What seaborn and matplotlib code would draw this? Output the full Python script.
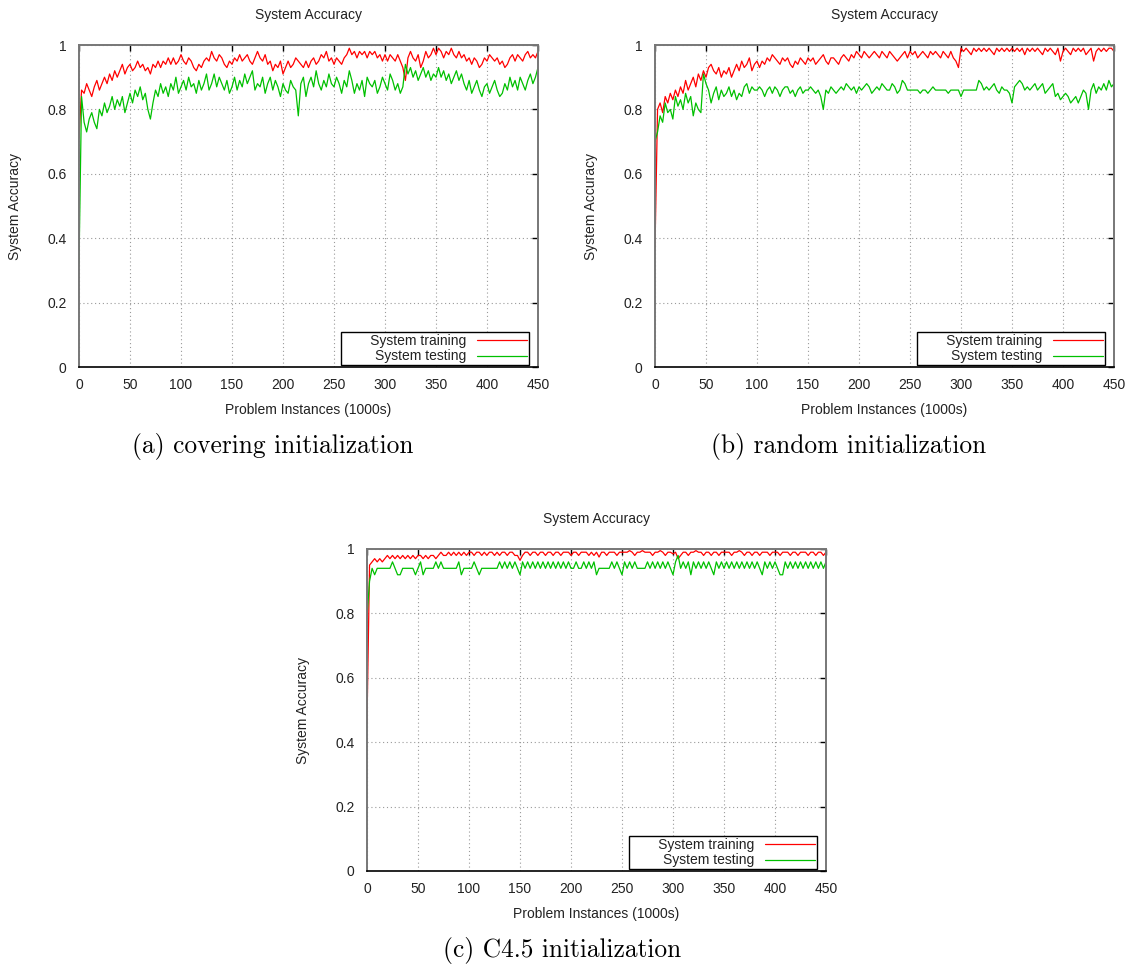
import numpy as np
import matplotlib
matplotlib.use("Agg")
import matplotlib.pyplot as plt
import seaborn as sns

WIDTH = 1135
HEIGHT = 966
DPI = 100

X_TICKS = [0, 50, 100, 150, 200, 250, 300, 350, 400, 450]
Y_TICKS = [0, 0.2, 0.4, 0.6, 0.8, 1.0]
Y_TICK_LABELS = ["0", "0.2", "0.4", "0.6", "0.8", "1"]

TITLE = "System Accuracy"
X_LABEL = "Problem Instances (1000s)"
Y_LABEL = "System Accuracy"
SERIES_NAMES = ["System training", "System testing"]
CAPTIONS = ["(a) covering initialization", "(b) random initialization", "(c) C4.5 initialization"]

# accuracy every 2.5k instances (first value is at 0)
covering_train = [.71,
    .86, .85, .88, .86, .84, .87, .89, .86, .88, .90,
    .88, .91, .89, .92, .90, .92, .94, .91, .93, .94,
    .92, .93, .95, .93, .94, .92, .93, .91, .94, .93,
    .95, .93, .95, .94, .96, .94, .96, .94, .95, .97,
    .95, .94, .96, .95, .93, .92, .94, .93, .95, .96,
    .95, .98, .96, .95, .97, .96, .94, .93, .95, .94,
    .96, .95, .97, .95, .96, .97, .95, .94, .96, .98,
    .96, .95, .97, .94, .95, .92, .94, .93, .95, .91,
    .93, .95, .93, .94, .96, .95, .94, .93, .95, .93,
    .95, .96, .94, .95, .97, .96, .98, .95, .96, .94,
    .96, .95, .94, .96, .97, .99, .97, .98, .96, .98,
    .97, .98, .96, .98, .97, .98, .96, .97, .95, .97,
    .95, .97, .96, .95, .97, .95, .93, .89, .96, .98,
    .96, .95, .97, .93, .95, .98, .96, .97, .99, .97,
    .99, .98, .96, .98, .97, .99, .97, .96, .98, .96,
    .97, .95, .96, .94, .96, .95, .93, .94, .96, .95,
    .97, .96, .95, .96, .94, .95, .93, .94, .96, .97,
    .95, .97, .96, .95, .97, .98, .96, .97, .96, .98]
covering_test = [.32,
    .84, .76, .73, .77, .79, .76, .74, .80, .78, .82,
    .79, .81, .84, .80, .83, .81, .84, .79, .82, .85,
    .82, .86, .84, .87, .83, .85, .80, .77, .82, .86,
    .84, .88, .85, .87, .84, .88, .86, .90, .85, .87,
    .89, .86, .90, .87, .88, .85, .89, .86, .88, .91,
    .86, .88, .91, .87, .90, .88, .86, .89, .85, .87,
    .90, .86, .89, .87, .91, .88, .90, .92, .86, .88,
    .87, .90, .85, .88, .90, .86, .89, .87, .84, .88,
    .86, .85, .89, .87, .86, .78, .88, .90, .84, .88,
    .90, .87, .92, .88, .86, .89, .87, .91, .88, .87,
    .90, .88, .85, .89, .87, .92, .89, .85, .88, .86,
    .89, .84, .90, .88, .87, .89, .85, .87, .90, .88,
    .86, .91, .89, .86, .88, .85, .87, .94, .91, .93,
    .90, .92, .89, .91, .93, .90, .92, .89, .91, .90,
    .93, .90, .92, .89, .91, .88, .90, .92, .89, .91,
    .88, .86, .89, .85, .87, .89, .86, .84, .87, .88,
    .85, .87, .89, .86, .84, .85, .88, .86, .90, .87,
    .89, .86, .90, .88, .86, .89, .91, .88, .90, .93]

random_train = [.37,
    .80, .82, .79, .84, .82, .85, .83, .86, .84, .87,
    .85, .89, .86, .88, .90, .87, .91, .89, .92, .90,
    .93, .94, .92, .91, .93, .90, .92, .91, .93, .90,
    .92, .94, .92, .95, .93, .94, .96, .92, .94, .95,
    .93, .95, .94, .96, .95, .97, .96, .95, .94, .96,
    .95, .96, .94, .93, .95, .94, .96, .95, .94, .96,
    .95, .96, .94, .95, .96, .97, .95, .94, .96, .96,
    .95, .94, .96, .97, .96, .95, .97, .96, .98, .97,
    .96, .98, .97, .96, .97, .98, .97, .96, .98, .97,
    .96, .98, .97, .96, .95, .96, .97, .98, .96, .98,
    .97, .98, .96, .97, .98, .97, .96, .98, .97, .98,
    .97, .96, .98, .97, .96, .98, .96, .95, .93, .99,
    .98, .99, .98, .97, .99, .98, .99, .98, .99, .98,
    .99, .98, .97, .99, .98, .99, .98, .99, .98, .99,
    .98, .99, .98, .99, .97, .99, .98, .99, .98, .99,
    .98, .97, .99, .98, .99, .98, .97, .99, .95, .98,
    .99, .98, .97, .99, .98, .99, .98, .99, .97, .98,
    .99, .95, .98, .99, .98, .99, .98, .99, .99, .98]
random_test = [.70,
    .73, .78, .76, .82, .79, .80, .77, .84, .81, .83,
    .80, .85, .82, .84, .78, .82, .80, .79, .91, .88,
    .86, .82, .85, .87, .83, .86, .84, .85, .87, .84,
    .86, .83, .85, .84, .87, .88, .85, .87, .86, .86,
    .87, .86, .84, .86, .87, .85, .87, .86, .84, .86,
    .87, .87, .85, .86, .84, .86, .87, .85, .86, .86,
    .87, .86, .85, .86, .84, .80, .86, .85, .87, .86,
    .85, .86, .87, .86, .88, .87, .86, .87, .85, .87,
    .86, .87, .88, .87, .85, .86, .87, .86, .88, .87,
    .86, .86, .88, .87, .85, .86, .89, .88, .86, .86,
    .86, .86, .86, .85, .86, .86, .85, .86, .87, .86,
    .86, .86, .86, .86, .85, .86, .86, .86, .86, .84,
    .86, .86, .86, .86, .86, .86, .89, .88, .86, .87,
    .86, .87, .88, .86, .85, .87, .86, .86, .85, .82,
    .87, .88, .89, .88, .86, .87, .86, .87, .88, .86,
    .87, .88, .85, .86, .87, .88, .84, .85, .83, .84,
    .85, .84, .82, .83, .84, .82, .84, .86, .85, .80,
    .86, .88, .85, .87, .86, .88, .86, .89, .87, .88]

c45_train = [.46,
    .95, .96, .97, .96, .97, .96, .97, .98, .97, .98,
    .97, .98, .97, .98, .97, .98, .97, .98, .97, .98,
    .98, .97, .98, .97, .98, .98, .97, .98, .99, .98,
    .98, .99, .98, .99, .98, .99, .98, .99, .98, .99,
    .99, .98, .99, .99, .98, .99, .98, .99, .99, .98,
    .99, .98, .99, .99, .98, .99, .99, .98, .98, .965,
    .98, .99, .99, .98, .99, .99, .98, .99, .99, .98,
    .99, .99, .98, .99, .99, .98, .99, .99, .99, .98,
    .99, .99, .98, .99, .99, .99, .98, .99, .98, .99,
    .975, .99, .99, .98, .99, .99, .99, .98, .99, .99,
    .99, .99, .995, .99, .98, .99, .99, .995, .99, .99,
    .99, .98, .99, .99, .995, .99, .98, .99, .99, .985,
    .99, .97, .98, .99, .99, .98, .99, .99, .995, .99,
    .99, .98, .99, .99, .98, .99, .99, .98, .99, .99,
    .99, .99, .98, .99, .99, .995, .99, .98, .99, .99,
    .98, .99, .99, .98, .99, .99, .99, .98, .99, .99,
    .99, .98, .99, .99, .99, .98, .99, .99, .98, .99,
    .99, .99, .98, .99, .99, .98, .99, .99, .98, .99]
c45_test = [.79,
    .90, .94, .92, .94, .94, .94, .94, .94, .94, .96,
    .94, .92, .92, .94, .94, .94, .94, .94, .92, .94,
    .96, .92, .94, .94, .94, .94, .96, .94, .96, .94,
    .94, .94, .94, .94, .94, .96, .92, .94, .94, .94,
    .94, .96, .94, .92, .94, .94, .94, .94, .94, .94,
    .94, .96, .94, .96, .94, .96, .94, .96, .94, .92,
    .96, .94, .96, .94, .96, .94, .96, .94, .96, .94,
    .96, .94, .96, .94, .96, .94, .96, .94, .96, .94,
    .94, .96, .94, .94, .96, .94, .96, .94, .96, .92,
    .94, .94, .94, .94, .94, .96, .94, .96, .94, .92,
    .96, .94, .96, .94, .96, .94, .94, .94, .94, .96,
    .94, .96, .94, .96, .94, .96, .94, .96, .94, .92,
    .96, .98, .94, .96, .94, .96, .92, .96, .94, .96,
    .94, .96, .94, .96, .94, .92, .96, .94, .96, .94,
    .96, .94, .96, .94, .96, .94, .96, .94, .96, .94,
    .96, .94, .96, .94, .92, .96, .94, .96, .94, .96,
    .94, .92, .92, .96, .94, .96, .94, .96, .94, .96,
    .94, .96, .94, .96, .94, .96, .94, .96, .94, .96]

PANELS = [
    # (train, test, axes box in px: left, top, right, bottom, caption center x)
    (covering_train, covering_test, (79, 45, 538, 367), 273),
    (random_train, random_test, (655, 45, 1114, 367), 849),
    (c45_train, c45_test, (367, 549, 826, 871), 562),
]

TRAIN_COLOR = "#ff0000"
TEST_COLOR = "#00c000"
TEXT_COLOR = "#222222"

sns.set_style("white")
plt.rcParams['font.family'] = ['Liberation Sans', 'DejaVu Sans']


def fx(px):
    return px / WIDTH


def fy(py):
    return 1 - py / HEIGHT


def draw_panel(fig, train, test, box, cap_x, caption):
    left, top, right, bottom = box
    ax = fig.add_axes([fx(left), fy(bottom), (right - left) / WIDTH, (bottom - top) / HEIGHT])

    x_train = np.linspace(0, 450, len(train))
    x_test = np.linspace(0, 450, len(test))
    # gnuplot key pads the labels on the left
    sns.lineplot(x=x_train, y=train, ax=ax, color=TRAIN_COLOR, linewidth=0.9,
                 label="       " + SERIES_NAMES[0])
    sns.lineplot(x=x_test, y=test, ax=ax, color=TEST_COLOR, linewidth=0.9,
                 label="        " + SERIES_NAMES[1])

    ax.set_xlim(0, 450)
    ax.set_ylim(0, 1)
    ax.set_xticks(X_TICKS)
    ax.set_yticks(Y_TICKS)
    ax.set_yticklabels(Y_TICK_LABELS)
    ax.tick_params(direction='in', length=4, width=1, top=True, right=True,
                   labelsize=10, labelcolor=TEXT_COLOR, color='black')
    ax.tick_params(axis='x', pad=8)
    ax.tick_params(axis='y', pad=9)
    ax.grid(True, linestyle=(0, (1, 2.5)), color='#9a9a9a', linewidth=0.8)
    for side in ['left', 'top', 'right']:
        ax.spines[side].set_color('#777777')
        ax.spines[side].set_linewidth(1.4)
    ax.spines['bottom'].set_color('black')
    ax.spines['bottom'].set_linewidth(1.2)

    leg = ax.legend(loc='lower right', bbox_to_anchor=(0.98, 0.006), markerfirst=False,
                    frameon=True, fancybox=False, edgecolor='black', framealpha=1,
                    fontsize=10, handlelength=3.6, borderpad=0.12, labelspacing=0.12,
                    borderaxespad=0)
    leg.get_frame().set_linewidth(1.0)
    for t in leg.get_texts():
        t.set_color(TEXT_COLOR)

    mid_x = (left + right) / 2
    fig.text(fx(mid_x), fy(top - 30), TITLE, ha='center', va='center', fontsize=10, color=TEXT_COLOR)
    fig.text(fx(mid_x), fy(bottom + 43), X_LABEL, ha='center', va='center', fontsize=10, color=TEXT_COLOR)
    fig.text(fx(left - 64), fy((top + bottom) / 2), Y_LABEL, ha='center', va='center',
             rotation=90, fontsize=10, color=TEXT_COLOR)
    fig.text(fx(cap_x), fy(bottom + 80), caption, ha='center', va='center',
             fontsize=18.3, family='cmr10', color='black')
    return ax


fig = plt.figure(figsize=(WIDTH / DPI, HEIGHT / DPI), dpi=DPI)
for (train, test, box, cap_x), caption in zip(PANELS, CAPTIONS):
    draw_panel(fig, train, test, box, cap_x, caption)

fig.savefig("out.png", dpi=DPI)
